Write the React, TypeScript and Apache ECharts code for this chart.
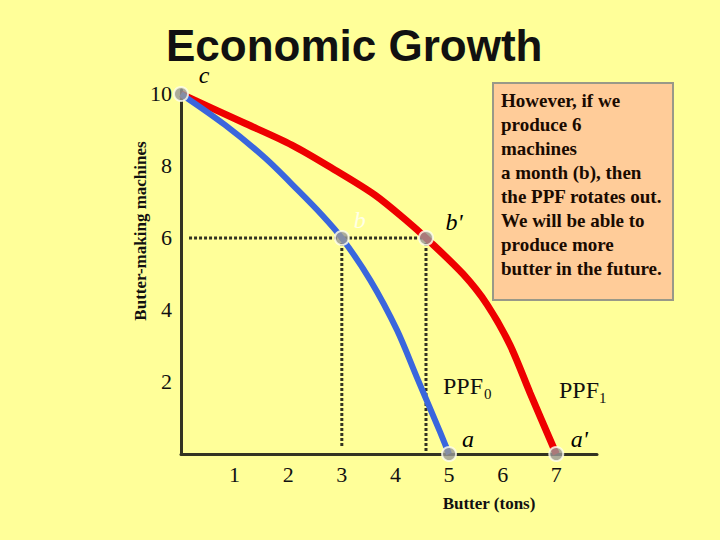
import React, { useEffect, useRef } from "react";
import * as echarts from "echarts";

const ppf0: number[][] = [
  [0, 10], [0.82, 9.14], [1.57, 8.22], [2.18, 7.33], [2.63, 6.64], [3, 6],
  [3.53, 4.83], [4.03, 3.44], [4.4, 2.13], [4.83, 0.62], [5, 0],
];
const ppf1: number[][] = [
  [0, 10], [1.14, 9.22], [2.07, 8.58], [2.87, 7.89], [3.62, 7.19], [4.24, 6.44],
  [4.57, 6], [5.26, 5.0], [5.71, 4.15], [6.14, 3.02], [6.51, 1.7], [7, 0],
];
const pointNames = ["c", "b", "b'", "a", "a'"];
const pointValues: number[][] = [[0, 10], [3, 6], [4.57, 6], [5, 0], [7, 0]];
const guideH: number[][] = [[0.15, 6], [4.57, 6]];
const guideV1: number[][] = [[3, 6], [3, 0.18]];
const guideV2: number[][] = [[4.57, 6], [4.57, 0]];
const yTicks = [2, 4, 6, 8, 10];
const xTicks = [1, 2, 3, 4, 5, 6, 7];
const boxLines = [
  "However, if we",
  "produce 6",
  "machines",
  "a month (b), then",
  "the PPF rotates out.",
  "We will be able to",
  "produce more",
  "butter in the future.",
];

const labelOffsets: Record<string, number[]> = {
  c: [23, -19],
  b: [18, -18],
  "b'": [28, -16],
  a: [19, -15],
  "a'": [23, -15],
};

export default function App() {
  const ref = useRef<HTMLDivElement>(null);
  useEffect(() => {
    document.body.style.margin = "0";
    const chart = echarts.init(ref.current!, null, { renderer: "svg" });
    const serif = "Liberation Serif";
    const dotted = {
      type: "line",
      symbol: "none",
      silent: true,
      z: 1,
      lineStyle: { color: "#333322", width: 3, type: [3, 2] },
    };
    chart.setOption({
      animation: false,
      backgroundColor: "#FFFF99",
      title: {
        text: "Economic Growth",
        left: 161,
        top: 18,
        textStyle: { fontFamily: "Liberation Sans", fontWeight: "bold", fontSize: 44, lineHeight: 44, color: "#111" },
      },
      grid: { left: 181, top: 90, width: 416, height: 364 },
      xAxis: {
        type: "value",
        min: 0,
        max: 7.76,
        interval: 1,
        axisLine: { lineStyle: { color: "#333322", width: 3 } },
        axisTick: { show: false },
        splitLine: { show: false },
        axisLabel: {
          margin: 9,
          showMaxLabel: false,
          fontFamily: serif,
          fontSize: 22,
          color: "#111",
          formatter: (v: number) => (xTicks.includes(v) ? String(v) : ""),
        },
      },
      yAxis: {
        type: "value",
        min: 0,
        max: 10.11,
        interval: 2,
        axisLine: { lineStyle: { color: "#333322", width: 3 } },
        axisTick: { show: false },
        splitLine: { show: false },
        axisLabel: {
          margin: 9,
          showMaxLabel: false,
          fontFamily: serif,
          fontSize: 22,
          color: "#111",
          padding: [12, 0, 0, 0],
          formatter: (v: number) => (yTicks.includes(v) ? String(v) : ""),
        },
      },
      series: [
        { ...dotted, data: guideH },
        { ...dotted, data: guideV1 },
        { ...dotted, data: guideV2 },
        {
          type: "line",
          data: ppf1,
          smooth: 0.3,
          symbol: "none",
          z: 2,
          lineStyle: { color: "#EE0000", width: 7 },
        },
        {
          type: "line",
          data: ppf0,
          smooth: 0.3,
          symbol: "none",
          z: 3,
          lineStyle: { color: "#3A66DD", width: 6 },
        },
        {
          type: "scatter",
          z: 5,
          symbolSize: 14,
          itemStyle: { color: "#999999", borderColor: "#FFFFEE", borderWidth: 2 },
          data: pointNames.map((n, i) => ({
            name: n,
            value: pointValues[i],
            label: {
              show: true,
              position: "inside",
              offset: labelOffsets[n],
              formatter: n,
              fontFamily: serif,
              fontStyle: "italic",
              fontSize: 24,
              lineHeight: 18,
              textBorderWidth: 0,
              textBorderColor: "transparent",
              opacity: 1,
              color: n === "b" ? "#FFFFE6" : "#000000",
            },
          })),
        },
      ],
      graphic: [
        {
          type: "text",
          x: 140,
          y: 231,
          rotation: Math.PI / 2,
          style: {
            text: "Butter-making machines",
            fontFamily: serif,
            fontWeight: "bold",
            fontSize: 17,
            fill: "#111",
            textAlign: "center",
            textVerticalAlign: "middle",
          },
        },
        {
          type: "text",
          x: 489,
          y: 503,
          style: {
            text: "Butter (tons)",
            fontFamily: serif,
            fontWeight: "bold",
            fontSize: 17,
            fill: "#111",
            textAlign: "center",
            textVerticalAlign: "middle",
          },
        },
        {
          type: "text",
          x: 443,
          y: 386,
          style: { text: "PPF", fontFamily: serif, fontSize: 24, fill: "#111", textVerticalAlign: "middle" },
        },
        {
          type: "text",
          x: 484,
          y: 394,
          style: { text: "0", fontFamily: serif, fontSize: 15, fill: "#111", textVerticalAlign: "middle" },
        },
        {
          type: "text",
          x: 559,
          y: 390,
          style: { text: "PPF", fontFamily: serif, fontSize: 24, fill: "#111", textVerticalAlign: "middle" },
        },
        {
          type: "text",
          x: 599,
          y: 398,
          style: { text: "1", fontFamily: serif, fontSize: 15, fill: "#111", textVerticalAlign: "middle" },
        },
        {
          type: "rect",
          shape: { x: 493, y: 83, width: 180, height: 217 },
          style: { fill: "#FFCC99", stroke: "#999988", lineWidth: 2 },
          z: 10,
        },
        {
          type: "text",
          x: 501,
          y: 88,
          z: 11,
          style: {
            text: boxLines.join("\n"),
            fontFamily: serif,
            fontWeight: "bold",
            fontSize: 19,
            lineHeight: 24,
            fill: "#1a0a00",
            textAlign: "left",
            textVerticalAlign: "top",
          },
        },
      ],
    });
    return () => chart.dispose();
  }, []);
  return <div ref={ref} style={{ position: "fixed", left: 0, top: 0, width: 720, height: 540 }} />;
}
